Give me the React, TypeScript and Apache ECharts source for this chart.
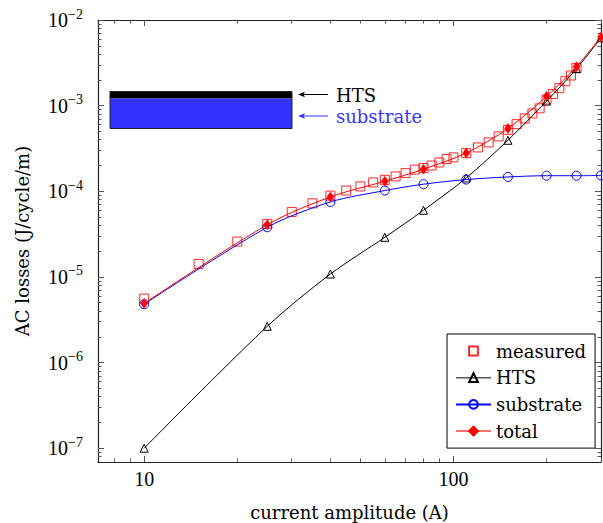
import React, { useEffect, useRef } from 'react';
import * as echarts from 'echarts';

// measured points
const measuredCurrent = [10, 15, 20, 25, 30, 35, 40, 45, 50, 55, 60, 65, 70, 75, 80, 85, 90, 95, 100, 110, 120, 130, 140, 150, 160, 170, 180, 190, 200, 210, 220, 230, 240, 250];
const measuredLoss = [5.6e-6, 1.42e-5, 2.59e-5, 4.16e-5, 5.74e-5, 7.23e-5, 8.9e-5, 1.02e-4, 1.14e-4, 1.27e-4, 1.36e-4, 1.49e-4, 1.63e-4, 1.79e-4, 1.87e-4, 2.0e-4, 2.17e-4, 2.38e-4, 2.49e-4, 2.79e-4, 3.25e-4, 3.72e-4, 4.37e-4, 5.22e-4, 6.08e-4, 7.08e-4, 8.1e-4, 9.3e-4, 1.18e-3, 1.37e-3, 1.6e-3, 1.93e-3, 2.25e-3, 2.75e-3];

// model points
const modelCurrent = [10, 25, 40, 60, 80, 110, 150, 200, 250, 300];
const htsLoss = [1.0e-7, 2.65e-6, 1.08e-5, 2.9e-5, 6.0e-5, 1.43e-4, 3.94e-4, 1.13e-3, 2.7e-3, 6.2e-3];
const substrateLoss = [4.8e-6, 3.8e-5, 7.5e-5, 1.02e-4, 1.21e-4, 1.37e-4, 1.47e-4, 1.52e-4, 1.52e-4, 1.53e-4];
const totalLoss = [4.9e-6, 4.07e-5, 8.6e-5, 1.31e-4, 1.81e-4, 2.8e-4, 5.4e-4, 1.28e-3, 2.85e-3, 6.35e-3];

// ticks
const xMajorTicks = [10, 100];
const xMinorTicks = [8, 9, 20, 30, 40, 50, 60, 70, 80, 90, 200, 300];
const yMajorTicks = [1e-7, 1e-6, 1e-5, 1e-4, 1e-3, 1e-2];
const yMinorTicks = [
  8e-8, 9e-8,
  2e-7, 3e-7, 4e-7, 5e-7, 6e-7, 7e-7, 8e-7, 9e-7,
  2e-6, 3e-6, 4e-6, 5e-6, 6e-6, 7e-6, 8e-6, 9e-6,
  2e-5, 3e-5, 4e-5, 5e-5, 6e-5, 7e-5, 8e-5, 9e-5,
  2e-4, 3e-4, 4e-4, 5e-4, 6e-4, 7e-4, 8e-4, 9e-4,
  2e-3, 3e-3, 4e-3, 5e-3, 6e-3, 7e-3, 8e-3, 9e-3,
];

const X_MIN = 7.09;
const X_MAX = 300;
const Y_MIN = 6.9e-8;
const Y_MAX = 1e-2;

const NUM_FONT = 'Liberation Serif';
const WORD_FONT = 'DejaVu Serif';

const zip = (xs: number[], ys: number[]) => xs.map((x, i) => [x, ys[i]]);

function makeXAxis(position: 'bottom' | 'top', major: boolean, showLabels: boolean, showLine: boolean) {
  return {
    type: 'log',
    logBase: 10,
    min: X_MIN,
    max: X_MAX,
    position,
    gridIndex: 0,
    name: showLabels ? 'current amplitude (A)' : '',
    nameLocation: 'middle',
    nameGap: 41,
    nameTextStyle: { fontFamily: WORD_FONT, fontSize: 18, color: '#000' },
    axisLine: { show: showLine, onZero: false, lineStyle: { color: '#222', width: 1.2 } },
    axisTick: {
      show: true,
      inside: true,
      length: major ? 6 : 3.5,
      customValues: major ? xMajorTicks : xMinorTicks,
      lineStyle: { color: '#555', width: 1 },
    },
    axisLabel: {
      show: showLabels,
      customValues: xMajorTicks,
      margin: 7,
      fontFamily: NUM_FONT,
      fontSize: 20,
      color: '#000',
    },
    splitLine: { show: false },
    minorTick: { show: false },
  };
}

function makeYAxis(position: 'left' | 'right', major: boolean, showLabels: boolean, showLine: boolean) {
  return {
    type: 'log',
    logBase: 10,
    min: Y_MIN,
    max: Y_MAX,
    position,
    gridIndex: 0,
    name: showLabels ? 'AC losses (J/cycle/m)' : '',
    nameLocation: 'middle',
    nameGap: 67,
    nameRotate: 90,
    nameTextStyle: { fontFamily: WORD_FONT, fontSize: 18, color: '#000' },
    axisLine: { show: showLine, onZero: false, lineStyle: { color: '#222', width: 1.2 } },
    axisTick: {
      show: true,
      inside: true,
      length: major ? 6 : 3.5,
      customValues: major ? yMajorTicks : yMinorTicks,
      lineStyle: { color: '#555', width: 1 },
    },
    axisLabel: {
      show: showLabels,
      customValues: yMajorTicks,
      margin: 15,
      formatter: (v: number) => {
        const e = Math.round(Math.log10(v));
        return `{b|10}{s|${e < 0 ? '\u2212' : ''}${Math.abs(e)}}`;
      },
      rich: {
        b: { fontFamily: NUM_FONT, fontSize: 20, color: '#000', lineHeight: 26 },
        s: { fontFamily: NUM_FONT, fontSize: 14, color: '#000', lineHeight: 14, verticalAlign: 'top' },
      },
    },
    splitLine: { show: false },
    minorTick: { show: false },
  };
}

export default function App() {
  const ref = useRef<HTMLDivElement>(null);

  useEffect(() => {
    if (!ref.current) return;
    const chart = echarts.init(ref.current, null, { renderer: 'svg' });

    const hollow = (c: string) => ({ color: 'rgba(0,0,0,0)', borderColor: c, borderWidth: 1 });

    chart.setOption({
      animation: false,
      backgroundColor: '#fff',
      textStyle: { fontFamily: WORD_FONT },
      grid: { left: 98, right: 2, top: 20, bottom: 61, outerBoundsMode: 'none' },
      xAxis: [
        makeXAxis('bottom', true, true, true),
        makeXAxis('bottom', false, false, false),
        makeXAxis('top', true, false, true),
        makeXAxis('top', false, false, false),
      ],
      yAxis: [
        makeYAxis('left', true, true, true),
        makeYAxis('left', false, false, false),
        makeYAxis('right', true, false, true),
        makeYAxis('right', false, false, false),
      ],
      legend: {
        orient: 'vertical',
        left: 447,
        top: 334,
        padding: [7, 9, 7, 8],
        itemGap: 6.7,
        itemWidth: 35,
        itemHeight: 11,
        borderColor: '#000',
        borderWidth: 1,
        borderRadius: 0,
        backgroundColor: '#fff',
        textStyle: { fontFamily: WORD_FONT, fontSize: 18, color: '#000', lineHeight: 20 },
        selectedMode: false,
        data: [
          { name: 'measured' },
          { name: 'HTS', lineStyle: { color: '#555', width: 1.5 } },
          { name: 'substrate' },
          { name: 'total', lineStyle: { color: '#ff7070', width: 2 } },
        ],
      },
      graphic: [
        { type: 'rect', shape: { x: 110, y: 91.5, width: 182, height: 7 }, style: { fill: '#000' }, z: 10 },
        { type: 'rect', shape: { x: 110, y: 98.5, width: 182, height: 30 }, style: { fill: '#3333ff' }, z: 10 },
        { type: 'rect', shape: { x: 110, y: 91.5, width: 182, height: 37 }, style: { fill: 'none', stroke: '#222', lineWidth: 1 }, z: 11 },
        { type: 'line', shape: { x1: 302, y1: 94.5, x2: 328, y2: 94.5 }, style: { stroke: '#000', lineWidth: 1 }, z: 10 },
        { type: 'polygon', shape: { points: [[298, 94.5], [305, 91.8], [303.5, 94.5], [305, 97.2]] }, style: { fill: '#000' }, z: 10 },
        { type: 'text', x: 336, y: 95, style: { text: 'HTS', fontFamily: WORD_FONT, fontSize: 18, fill: '#000', verticalAlign: 'middle', align: 'left' }, z: 10 },
        { type: 'line', shape: { x1: 302, y1: 116, x2: 328, y2: 116 }, style: { stroke: '#3333ff', lineWidth: 1 }, z: 10 },
        { type: 'polygon', shape: { points: [[298, 116], [305, 113.3], [303.5, 116], [305, 118.7]] }, style: { fill: '#3333ff' }, z: 10 },
        { type: 'text', x: 336, y: 116.5, style: { text: 'substrate', fontFamily: WORD_FONT, fontSize: 18, fill: '#3535ff', verticalAlign: 'middle', align: 'left' }, z: 10 },
      ],
      series: [
        {
          name: 'measured',
          type: 'line',
          xAxisIndex: 0,
          yAxisIndex: 0,
          data: zip(measuredCurrent, measuredLoss),
          symbol: 'rect',
          symbolSize: 9,
          showAllSymbol: true,
          itemStyle: hollow('#ff2a2a'),
          lineStyle: { opacity: 0, width: 0 },
          emphasis: { disabled: true },
          z: 2,
        },
        {
          name: 'HTS',
          type: 'line',
          xAxisIndex: 0,
          yAxisIndex: 0,
          data: zip(modelCurrent, htsLoss),
          smooth: 0.3,
          symbol: 'triangle',
          symbolSize: 8,
          showAllSymbol: true,
          itemStyle: hollow('#000'),
          lineStyle: { color: '#000', width: 1 },
          emphasis: { disabled: true },
          z: 3,
        },
        {
          name: 'substrate',
          type: 'line',
          xAxisIndex: 0,
          yAxisIndex: 0,
          data: zip(modelCurrent, substrateLoss),
          smooth: 0.3,
          symbol: 'circle',
          symbolSize: 9,
          showAllSymbol: true,
          itemStyle: hollow('#0000ff'),
          lineStyle: { color: '#0000ff', width: 1 },
          emphasis: { disabled: true },
          z: 4,
        },
        {
          name: 'total',
          type: 'line',
          xAxisIndex: 0,
          yAxisIndex: 0,
          data: zip(modelCurrent, totalLoss),
          smooth: 0.3,
          symbol: 'diamond',
          symbolSize: [7, 10],
          showAllSymbol: true,
          itemStyle: { color: '#ff0000', borderColor: '#ff0000', borderWidth: 0.5 },
          lineStyle: { color: '#ff0000', width: 1 },
          emphasis: { disabled: true },
          z: 5,
        },
      ],
    });

    return () => chart.dispose();
  }, []);

  return (
    <div
      ref={ref}
      style={{ position: 'absolute', left: 0, top: 0, width: 603, height: 523, background: '#fff' }}
    />
  );
}
